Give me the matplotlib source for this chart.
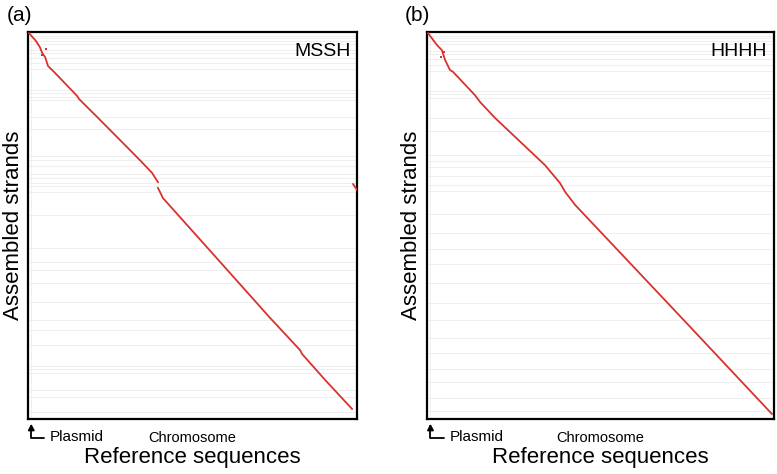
import numpy as np
import matplotlib
matplotlib.use('Agg')
import matplotlib.pyplot as plt

plt.rcParams['font.family'] = ['Liberation Sans', 'DejaVu Sans']

# alignment paths: reference position (fraction) vs assembled position (fraction)
# NaN marks a break between aligned pieces
ref_a = [0.003, 0.024, 0.036, 0.043, 0.052, 0.061, 0.073, 0.079, 0.149, 0.155, 0.213,
         0.340, 0.377, 0.395, np.nan, 0.395, 0.401, 0.410, 0.568, 0.736, 0.827,
         0.833, 0.903, 0.985, np.nan, 0.988, 1.0]
asm_a = [0.003, 0.023, 0.039, 0.054, 0.065, 0.088, 0.098, 0.103, 0.165, 0.173, 0.222,
         0.331, 0.364, 0.388, np.nan, 0.403, 0.413, 0.429, 0.579, 0.739, 0.822,
         0.832, 0.899, 0.974, np.nan, 0.393, 0.408]

ref_b = [0.003, 0.029, 0.043, 0.052, 0.066, 0.075, 0.138, 0.153, 0.196, 0.340, 0.383,
         0.398, 0.427, 0.729, 0.994]
asm_b = [0.003, 0.034, 0.047, 0.072, 0.098, 0.103, 0.163, 0.181, 0.222, 0.344, 0.390,
         0.413, 0.447, 0.734, 0.987]

# short stray hits near the start
dots_ref_a = [0.055, 0.043]
dots_asm_a = [0.044, 0.059]
dots_ref_b = [0.049, 0.040]
dots_asm_b = [0.052, 0.065]

# contig boundaries on the assembled axis
breaks_a = [0.010, 0.015, 0.023, 0.031, 0.047, 0.054, 0.067, 0.080, 0.096, 0.150, 0.158,
            0.168, 0.176, 0.220, 0.251, 0.320, 0.331, 0.346, 0.367, 0.377, 0.390, 0.398,
            0.413, 0.473, 0.558, 0.594, 0.615, 0.649, 0.698, 0.744, 0.770, 0.809, 0.863,
            0.871, 0.881, 0.925, 0.943, 0.982]
breaks_b = [0.010, 0.016, 0.024, 0.032, 0.048, 0.056, 0.070, 0.084, 0.100, 0.152, 0.160,
            0.170, 0.222, 0.255, 0.318, 0.333, 0.350, 0.372, 0.395, 0.412, 0.470, 0.520,
            0.560, 0.600, 0.648, 0.700, 0.745, 0.790, 0.830, 0.870, 0.905, 0.945, 0.980]

plasmid_end = 0.01

panels = [('(a)', 'MSSH', ref_a, asm_a, dots_ref_a, dots_asm_a, breaks_a),
          ('(b)', 'HHHH', ref_b, asm_b, dots_ref_b, dots_asm_b, breaks_b)]

fig = plt.figure(figsize=(7.77, 4.74), dpi=100)
boxes = [[28 / 777, 55 / 474, 329 / 777, 387 / 474],
         [427 / 777, 55 / 474, 347 / 777, 387 / 474]]

for box, (tag, name, rx, ay, dx, dy, brk) in zip(boxes, panels):
    ax = fig.add_axes(box)
    for b in brk:
        ax.axhline(b, color='#ececec', lw=0.6, zorder=1)
    ax.axvline(plasmid_end, color='#ececec', lw=0.6, zorder=1)
    ax.plot(rx, ay, color='#d9322e', lw=1.3, zorder=3)
    ax.plot(dx, dy, 's', color='#d9322e', ms=1.6, mew=0, zorder=3)
    ax.set_xlim(0, 1)
    ax.set_ylim(1, 0)
    ax.set_xticks([])
    ax.set_yticks([])
    for s in ax.spines.values():
        s.set_linewidth(1.6)
        s.set_color('black')

    ax.text(0.98, 0.95, name, transform=ax.transAxes, ha='right', va='center', fontsize=14)
    ax.text(-0.064, 1.042, tag, transform=ax.transAxes, ha='left', va='center', fontsize=15)

    ax.annotate('', xy=(plasmid_end, -0.012), xycoords='axes fraction',
                xytext=(0.05, -0.048), textcoords='axes fraction',
                arrowprops=dict(arrowstyle='-|>,head_length=0.35,head_width=0.18',
                                color='black', lw=1.3,
                                connectionstyle='angle,angleA=0,angleB=90,rad=0',
                                shrinkA=0, shrinkB=0))
    ax.text(0.065, -0.046, 'Plasmid', transform=ax.transAxes, ha='left', va='center',
            fontsize=11)
    ax.text(0.5, -0.048, 'Chromosome', transform=ax.transAxes, ha='center', va='center',
            fontsize=10.5)
    ax.text(0.5, -0.1, 'Reference sequences', transform=ax.transAxes, ha='center',
            va='center', fontsize=16)
    ax.text(-0.045, 0.5, 'Assembled strands', transform=ax.transAxes, ha='center',
            va='center', rotation=90, fontsize=16)

fig.savefig('out.png', dpi=100)
